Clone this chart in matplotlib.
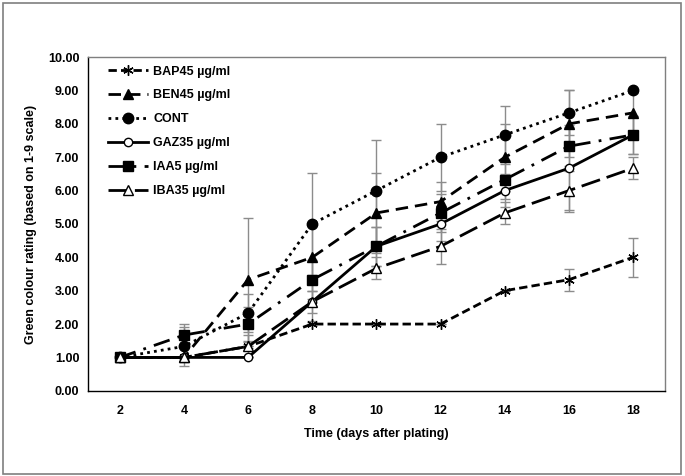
import matplotlib
matplotlib.use("Agg")
import matplotlib.pyplot as plt
from matplotlib.patches import Rectangle

plt.rcParams['font.family'] = ['Liberation Sans', 'DejaVu Sans']
plt.rcParams['font.weight'] = 'bold'

days = [2, 4, 6, 8, 10, 12, 14, 16, 18]

bap45 = [1.00, 1.00, 1.33, 2.00, 2.00, 2.00, 3.00, 3.33, 4.00]
ben45 = [1.00, 1.00, 3.33, 4.00, 5.33, 5.67, 7.00, 8.00, 8.33]
cont = [1.00, 1.33, 2.33, 5.00, 6.00, 7.00, 7.67, 8.33, 9.00]
gaz35 = [1.00, 1.00, 1.00, 2.67, 4.33, 5.00, 6.00, 6.67, 7.67]
iaa5 = [1.00, 1.67, 2.00, 3.33, 4.33, 5.33, 6.33, 7.33, 7.67]
iba35 = [1.00, 1.00, 1.33, 2.67, 3.67, 4.33, 5.33, 6.00, 6.67]

bap45_err = [0, 0, 0, 0, 0, 0, 0, 0.33, 0.58]
ben45_err = [0, 0, 1.86, 1.00, 1.20, 0.58, 1.00, 1.00, 0.58]
cont_err = [0, 0.58, 0.58, 1.53, 1.53, 1.00, 0.87, 0.67, 0]
gaz35_err = [0, 0, 0, 0.58, 0.58, 0.50, 0.50, 1.30, 0.58]
iaa5_err = [0, 0.33, 0.50, 0.58, 0.58, 0.58, 0.58, 0.58, 0.58]
iba35_err = [0, 0, 0.33, 0.33, 0.33, 0.53, 0.33, 0.58, 0.33]

series = [
    ('BAP45 µg/ml', bap45, bap45_err, (0, (3, 1.5)), (6, 2, 0), 'black', 7.5),
    ('BEN45 µg/ml', ben45, ben45_err, (0, (4.5, 2.5)), '^', 'black', 7.5),
    ('CONT', cont, cont_err, (0, (1, 1.5)), 'o', 'black', 7.5),
    ('GAZ35 µg/ml', gaz35, gaz35_err, '-', 'o', 'white', 6),
    ('IAA5 µg/ml', iaa5, iaa5_err, (0, (6, 3, 1, 3)), 's', 'black', 7.5),
    ('IBA35 µg/ml', iba35, iba35_err, (0, (7, 2.5)), '^', 'white', 6.5),
]

fig = plt.figure(figsize=(6.85, 4.76), dpi=100)
ax = fig.add_axes([0.128, 0.179, 0.843, 0.701])

for name, vals, err, ls, mk, mfc, ms in series:
    ax.errorbar(days, vals, yerr=err, fmt='none', ecolor='#8c8c8c',
                elinewidth=1, capsize=3.5, capthick=1, zorder=1)
    ax.plot(days, vals, linestyle=ls, color='black', linewidth=2,
            marker=mk, markersize=ms, markerfacecolor=mfc,
            markeredgecolor='black', markeredgewidth=1, label=name, zorder=3)

ax.set_xlim(1, 19)
ax.set_ylim(0, 10)
ax.set_xticks(days)
ax.set_yticks([0, 1, 2, 3, 4, 5, 6, 7, 8, 9, 10])
ax.set_yticklabels([f'{v:.2f}' for v in range(11)])
ax.tick_params(length=0, labelsize=9, pad=6)
ax.tick_params(axis='x', pad=10)
for lab in ax.get_xticklabels() + ax.get_yticklabels():
    lab.set_fontweight('bold')

for s in ax.spines.values():
    s.set_color('#7f7f7f')
    s.set_linewidth(1)
ax.spines['left'].set_color('black')
ax.spines['bottom'].set_color('black')

ax.set_xlabel('Time (days after plating)', fontsize=9, fontweight='bold', labelpad=8)
ax.set_ylabel('Green colour rating (based on 1-9 scale)', fontsize=9, fontweight='bold', labelpad=8)

leg = ax.legend(loc='upper left', bbox_to_anchor=(0.014, 1.012), frameon=False,
                fontsize=9, handlelength=3.2, labelspacing=0.95,
                borderaxespad=0.6, handletextpad=0.4)
for t in leg.get_texts():
    t.set_fontweight('bold')

fig.patches.append(Rectangle((0.004, 0.004), 0.99, 0.99, transform=fig.transFigure,
                             fill=False, edgecolor='#7f7f7f', linewidth=1.2))

fig.savefig('out.png', dpi=100)
